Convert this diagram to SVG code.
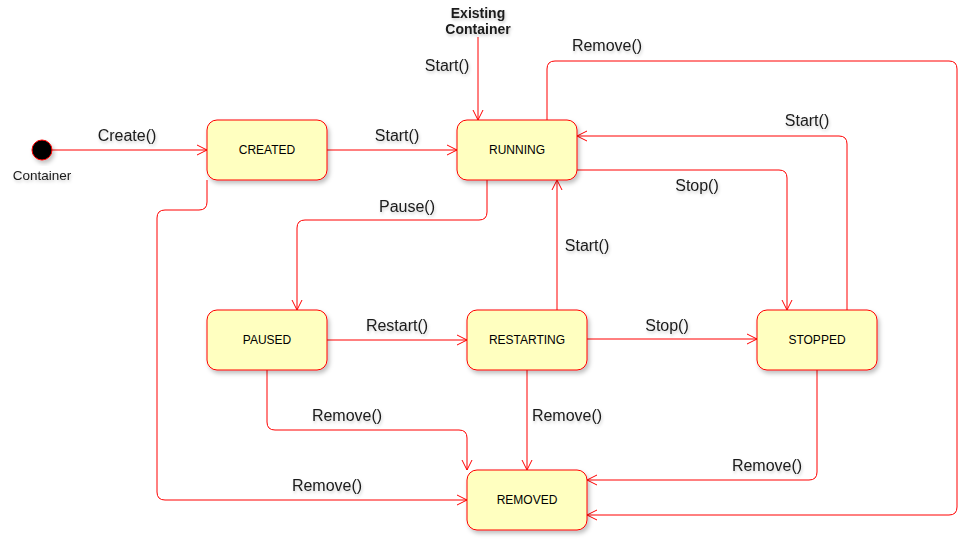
<svg xmlns="http://www.w3.org/2000/svg" width="979" height="542" viewBox="0 0 979 542">
<defs>
<filter id="sh" x="-20%" y="-20%" width="150%" height="150%"><feDropShadow dx="2" dy="3" stdDeviation="2" flood-color="#000" flood-opacity="0.25"/></filter>
<filter id="tsh" x="-10%" y="-20%" width="130%" height="160%"><feDropShadow dx="1" dy="2" stdDeviation="1.5" flood-color="#000" flood-opacity="0.2"/></filter>
<marker id="arr" viewBox="0 0 12 12" refX="11" refY="6" markerWidth="12" markerHeight="12" markerUnits="userSpaceOnUse" orient="auto"><path d="M1,1 L11,6 L1,11" fill="none" stroke="#ff0000" stroke-width="1"/></marker>
<style>
.node rect{fill:#ffffc0;stroke:#ff0000;stroke-width:1;filter:url(#sh)}
.node text{font-family:"Liberation Sans",Arial,sans-serif;font-size:12px;fill:#000;text-anchor:middle;dominant-baseline:central}
.conn path{fill:none;stroke:#ff0000;stroke-width:1;marker-end:url(#arr)}
.lbl{font-family:"Liberation Sans",Arial,sans-serif;font-size:16px;fill:#1a1a1a;text-anchor:middle;filter:url(#tsh)}
.small{font-size:13.5px}
.bold{font-weight:bold;font-size:14px}
</style>
</defs>
<rect width="979" height="542" fill="#ffffff"/>
<g id="connectors" class="conn">
<path d="M52,150 L207,150"/>
<path d="M327,150 L457,150"/>
<path d="M478,37 L478,120"/>
<path d="M547,120 L547,69 Q547,61 555,61 L949,61 Q957,61 957,69 L957,507 Q957,515 949,515 L587,515"/>
<path d="M847,310 L847,144 Q847,136 839,136 L577,136"/>
<path d="M577,170 L779,170 Q787,170 787,178 L787,310"/>
<path d="M487,180 L487,212 Q487,220 479,220 L305,220 Q297,220 297,228 L297,310"/>
<path d="M557,310 L557,180"/>
<path d="M327,340 L467,340"/>
<path d="M587,339 L757,339"/>
<path d="M267,370 L267,422 Q267,430 275,430 L459,430 Q467,430 467,438 L467,470"/>
<path d="M527,370 L527,470"/>
<path d="M817,370 L817,472 Q817,480 809,480 L587,480"/>
<path d="M207,180 L207,202 Q207,210 199,210 L165,210 Q157,210 157,218 L157,492 Q157,500 165,500 L467,500"/>
</g>
<g id="labels">
<text class="lbl" x="127" y="141">Create()</text>
<text class="lbl" x="397" y="141">Start()</text>
<text class="lbl" x="447" y="71">Start()</text>
<text class="lbl" x="607" y="51">Remove()</text>
<text class="lbl" x="807" y="126">Start()</text>
<text class="lbl" x="697" y="191">Stop()</text>
<text class="lbl" x="407" y="212">Pause()</text>
<text class="lbl" x="587" y="251">Start()</text>
<text class="lbl" x="397" y="331">Restart()</text>
<text class="lbl" x="667" y="331">Stop()</text>
<text class="lbl" x="347" y="421">Remove()</text>
<text class="lbl" x="567" y="421">Remove()</text>
<text class="lbl" x="767" y="471">Remove()</text>
<text class="lbl" x="327" y="491">Remove()</text>
</g>
<g id="start">
<circle cx="42" cy="150" r="10" fill="#000" stroke="#ff0000" stroke-width="1" filter="url(#sh)"/>
<text class="lbl small" x="42" y="180">Container</text>
</g>
<g id="existing">
<text class="lbl bold" x="478" y="18">Existing</text>
<text class="lbl bold" x="478" y="34">Container</text>
</g>
<g id="created" class="node"><rect x="207" y="120" width="120" height="60" rx="10"/><text x="267" y="150">CREATED</text></g>
<g id="running" class="node"><rect x="457" y="120" width="120" height="60" rx="10"/><text x="517" y="150">RUNNING</text></g>
<g id="paused" class="node"><rect x="207" y="310" width="120" height="60" rx="10"/><text x="267" y="340">PAUSED</text></g>
<g id="restarting" class="node"><rect x="467" y="310" width="120" height="60" rx="10"/><text x="527" y="340">RESTARTING</text></g>
<g id="stopped" class="node"><rect x="757" y="310" width="120" height="60" rx="10"/><text x="817" y="340">STOPPED</text></g>
<g id="removed" class="node"><rect x="467" y="470" width="120" height="60" rx="10"/><text x="527" y="500">REMOVED</text></g>
</svg>
